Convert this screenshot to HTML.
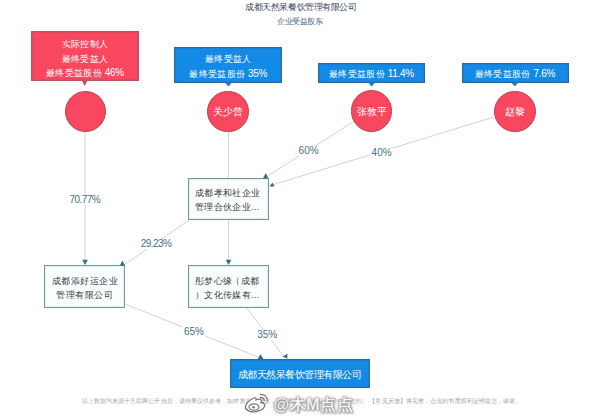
<!DOCTYPE html>
<html><head><meta charset="utf-8">
<style>
html,body{margin:0;padding:0;background:#fff;}
body{width:600px;height:420px;overflow:hidden;position:relative;font-family:"Liberation Sans",sans-serif;}
.a{position:absolute;white-space:nowrap;}
.t{position:absolute;white-space:nowrap;left:0;width:100%;text-align:center;color:#fff;}
.red{position:absolute;background:#f8475f;border:1px solid #b85262;box-sizing:border-box;color:#fff;box-shadow:inset 0 0 0 1px #e04a5e;}
.blue{position:absolute;background:#128ae6;border:1px solid #2a6aa0;box-sizing:border-box;color:#fff;box-shadow:inset 0 0 0 1px #1b7fcf;}
.wb{position:absolute;background:#fafefe;border:1px solid #7b959c;box-sizing:border-box;color:#555;box-shadow:inset 0 0 0 1px #e2f2f4;}
.circ{position:absolute;border-radius:50%;background:#f8485f;border:1.5px solid #c2404f;box-sizing:border-box;color:#fff;}
.lbl{position:absolute;white-space:nowrap;color:#46707e;font-size:10px;background:#fff;line-height:10px;padding:0 1px;margin-left:-1px;}
</style></head>
<body>
<!-- title -->
<div class="t" style="left:1px;top:1px;font-size:9px;letter-spacing:-0.45px;text-indent:-0.45px;line-height:12px;color:#3a4858;">成都天然呆餐饮管理有限公司</div>
<div class="t" style="top:15.5px;font-size:8px;letter-spacing:-0.5px;text-indent:-0.5px;line-height:12px;color:#4a6888;">企业受益股东</div>

<!-- lines -->
<svg class="a" style="left:0;top:0" width="600" height="420" viewBox="0 0 600 420">
<g stroke="#d2d2d2" stroke-width="1" fill="none">
<line x1="85" y1="132" x2="85" y2="261"/>
<line x1="228.5" y1="132" x2="228.5" y2="261"/>
<line x1="353" y1="122" x2="266" y2="177"/>
<line x1="494" y1="117" x2="272" y2="185"/>
<line x1="189" y1="220" x2="124" y2="265"/>
<line x1="125" y1="304" x2="260.5" y2="358"/>
<line x1="246" y1="307" x2="285" y2="358"/>
</g>
</svg>

<!-- top boxes -->
<div class="red" style="left:31px;top:31px;width:108px;height:50px;"></div>
<div class="t" style="left:31px;width:108px;top:37px;font-size:9px;letter-spacing:0.3px;line-height:14.6px;color:#fff;font-weight:500;">实际控制人<br>最终受益人<br>最终受益股份 <span style="font-size:10px;letter-spacing:-0.3px;font-weight:400">46%</span></div>
<div class="blue" style="left:174px;top:47px;width:108px;height:36px;"></div>
<div class="t" style="left:174.5px;width:107.5px;top:52px;font-size:9px;letter-spacing:0.3px;line-height:14.6px;color:#fff;font-weight:500;">最终受益人<br>最终受益股份 <span style="font-size:10px;letter-spacing:-0.3px;font-weight:400">35%</span></div>
<div class="blue" style="left:318px;top:63px;width:107px;height:19.5px;"></div>
<div class="t" style="left:318px;width:107px;top:67px;font-size:9px;letter-spacing:0.3px;line-height:14.6px;color:#fff;font-weight:500;">最终受益股份 <span style="font-size:10px;letter-spacing:-0.3px;font-weight:400">11.4%</span></div>
<div class="blue" style="left:461.5px;top:63px;width:107px;height:19.5px;"></div>
<div class="t" style="left:461.5px;width:107px;top:67px;font-size:9px;letter-spacing:0.3px;line-height:14.6px;color:#fff;font-weight:500;">最终受益股份 <span style="font-size:10px;letter-spacing:-0.3px;font-weight:400">7.6%</span></div>

<svg class="a" style="left:0;top:0" width="600" height="420" viewBox="0 0 600 420">
<g fill="#c6525f"><polygon points="81.8,80.5 87.6,80.5 84.7,86"/></g>
<g fill="#2f79b8">
<polygon points="224.8,82.5 232,82.5 228.4,86.5"/>
<polygon points="368,82.5 375.2,82.5 371.6,86.5"/>
<polygon points="511.2,82.5 518.4,82.5 514.8,86.5"/>
</g>
</svg>

<!-- circles -->
<div class="circ" style="left:64.6px;top:90.8px;width:41.5px;height:41.5px;"></div>
<div class="circ" style="left:207.2px;top:90.8px;width:41.5px;height:41.5px;"></div>
<div class="t" style="left:207.2px;width:41.5px;top:105px;font-size:10px;line-height:14px;">关少曾</div>
<div class="circ" style="left:350.5px;top:90.3px;width:41.5px;height:41.5px;"></div>
<div class="t" style="left:351.5px;width:41.5px;top:105px;font-size:10px;line-height:14px;">张敦平</div>
<div class="circ" style="left:494.3px;top:90.5px;width:41.5px;height:41.5px;"></div>
<div class="t" style="left:494.3px;width:41.5px;top:105.3px;font-size:10px;line-height:14px;">赵黎</div>

<!-- white boxes -->
<div class="wb" style="left:188px;top:178px;width:81px;height:42px;"></div>
<div class="a" style="left:195px;top:186.3px;font-size:9px;letter-spacing:0.35px;line-height:14px;color:#3a3a3a;font-weight:500;">成都孝和社企业<br>管理合伙企业...</div>
<div class="wb" style="left:44px;top:265px;width:81px;height:43px;"></div>
<div class="t" style="left:44.8px;width:80px;top:273.5px;font-size:9px;letter-spacing:0.5px;line-height:14px;color:#3a3a3a;font-weight:500;">成都添好运企业<br>管理有限公司</div>
<div class="wb" style="left:188px;top:265px;width:81px;height:43px;"></div>
<div class="a" style="left:195px;top:273.5px;font-size:9px;letter-spacing:0.35px;line-height:14px;color:#3a3a3a;font-weight:500;">彤梦心缘<span style="margin-left:-1px">（</span>成都<br>）文化传媒有...</div>

<!-- final box -->
<div class="blue" style="left:230px;top:359px;width:140px;height:29px;"></div>
<div class="t" style="left:229.5px;width:140px;top:367.5px;font-size:10px;letter-spacing:-0.5px;line-height:14px;color:#fff;">成都天然呆餐饮管理有限公司</div>

<!-- labels -->
<div class="lbl" style="left:69.5px;top:194.8px;letter-spacing:-0.55px;">70.77%</div>
<div class="lbl" style="left:298.6px;top:146.3px;">60%</div>
<div class="lbl" style="left:371.6px;top:148.3px;">40%</div>
<div class="lbl" style="left:140.8px;top:239.2px;letter-spacing:-0.55px;">29.23%</div>
<div class="lbl" style="left:184px;top:327.3px;">65%</div>
<div class="lbl" style="left:257.2px;top:329.8px;">35%</div>

<!-- arrowheads -->
<svg class="a" style="left:0;top:0" width="600" height="420" viewBox="0 0 600 420">
<g fill="#3b6f82">
<polygon points="82.2,259.7 87.9,259.7 85,265"/>
<polygon points="225.7,259.7 231.4,259.7 228.5,265"/>
<polygon points="262.9,178.4 268.4,178.4 265.7,173"/>
<polygon points="269.4,186.6 274.6,186.6 272.5,182.5"/>
<polygon points="119.8,265.5 125,265.5 122.5,260.5"/>
<polygon points="257.5,359 263.5,359 260.5,354.2"/>
<polygon points="282.8,356.5 287.4,353.4 287.4,358.7"/>
</g>
</svg>

<!-- disclaimer -->
<div class="a" style="left:81.5px;top:397px;font-size:6.18px;letter-spacing:0.08px;line-height:8px;color:#a4a4a4;">以上数据均来源于互联网公开信息，该结果仅供参考，如对数据有异议，请将权利人身份证明文件提交的）-【意见反馈】将完整，合法的书面权利证明提交，谢谢。</div>

<!-- watermark -->
<svg class="a" style="left:243px;top:391px" width="27" height="23" viewBox="0 0 27 23">
<g fill="#fff" stroke="#7a7a7a" stroke-width="1.3">
<path d="M11 7 C6 9 2 13 2.5 16.5 C3.5 20.5 9.5 21.5 13.5 20.5 C19 19.5 22.5 16.5 21.5 13.5 C21 11.5 18.5 11.5 18 11.5 C19 9.5 18 7.5 14.5 8.5 C13.5 8.8 13 9 13 9 C13.5 7 12.5 6.5 11 7 Z"/>
<ellipse cx="11" cy="16" rx="5" ry="3.2"/>
</g>
<circle cx="10.5" cy="16.3" r="1.3" fill="#7a7a7a"/>
<g fill="none" stroke="#7a7a7a" stroke-width="1.3"><path d="M17 3.5 C21.5 3 25 6 24.3 10.5"/><path d="M17 6.5 C19.8 6.3 21.5 7.8 21.2 10"/></g>
</svg>
<div class="a" style="left:273.5px;top:395px;font-size:16px;line-height:19px;color:#f4f4f4;font-weight:bold;letter-spacing:0.6px;text-shadow:0 0 1px #777,0 0 2px #999,1px 1px 2px #999,0 0 4px #aaa;">@木M点点</div>

</body></html>
